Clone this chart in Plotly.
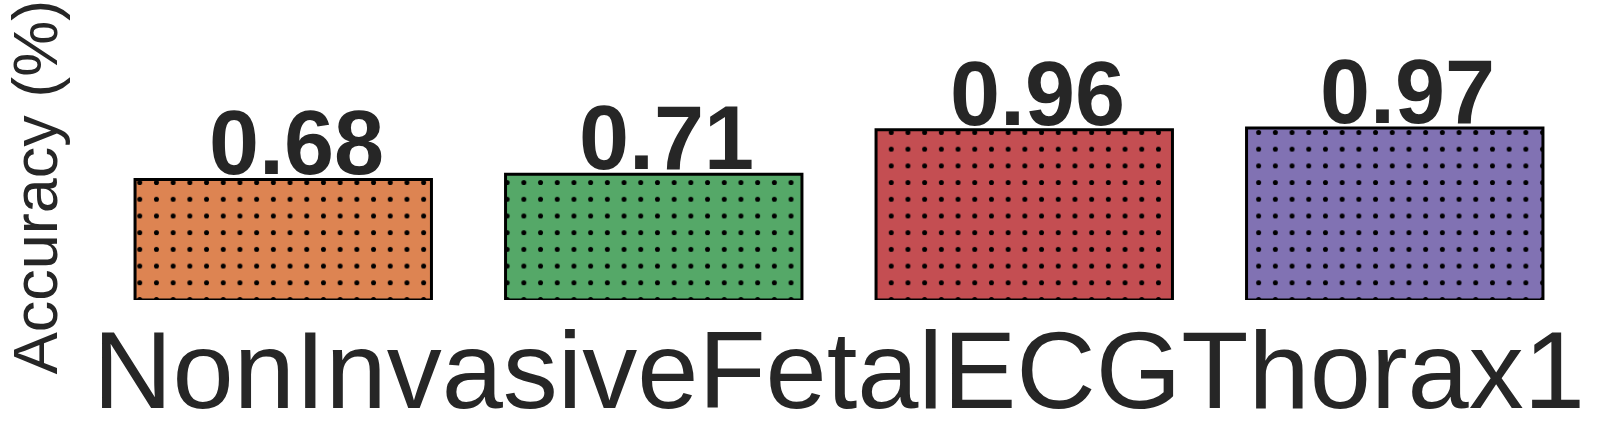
import plotly.graph_objects as go

# dataset and per-model accuracy
dataset = "NonInvasiveFetalECGThorax1"
models = ["m1", "m2", "m3", "m4"]
accuracy = [0.68, 0.71, 0.96, 0.97]
colors = ["#DD8452", "#55A868", "#C44E52", "#8172B3"]

pos = list(range(len(models)))

fig = go.Figure()
for p, name, acc, col in zip(pos, models, accuracy, colors):
    fig.add_trace(go.Bar(
        x=[p],
        y=[acc],
        name=name,
        width=0.8,
        marker=dict(
            color=col,
            line=dict(color="black", width=3),
            pattern=dict(shape=".", size=16.7, solidity=0.07, fgcolor="black", fgopacity=1),
        ),
    ))
    # value label just above the bar
    fig.add_annotation(
        x=p, y=acc, text=f"<b>{acc:.2f}</b>", showarrow=False,
        yanchor="bottom", yshift=-16, xshift=13,
        font=dict(family="Liberation Sans, Arial", size=90, color="#262626"),
    )

fig.update_layout(
    width=1614,
    height=431,
    barmode="overlay",
    showlegend=False,
    plot_bgcolor="white",
    paper_bgcolor="white",
    margin=dict(l=98, r=34, t=74, b=131),
    font=dict(family="Liberation Sans, Arial", color="#262626"),
)
fig.update_xaxes(
    range=[-0.5, len(models) - 0.5],
    tickvals=[(len(models) - 1) / 2], ticktext=[dataset],
    showline=False, showgrid=False, zeroline=False, ticks="", automargin=False,
    tickfont=dict(size=110, color="#262626"),
    ticklabelstandoff=-3,
)
fig.update_yaxes(
    range=[0, 1.275], showgrid=False, showline=False, zeroline=False,
    showticklabels=False, ticks="", automargin=False,
    title=dict(text="Accuracy (%)", font=dict(size=63, color="#262626"), standoff=60),
)

# drop the default body margin so the figure fills the window
fig.write_html("out.html", config={"displayModeBar": False},
               post_script="document.body.style.margin='0';")
